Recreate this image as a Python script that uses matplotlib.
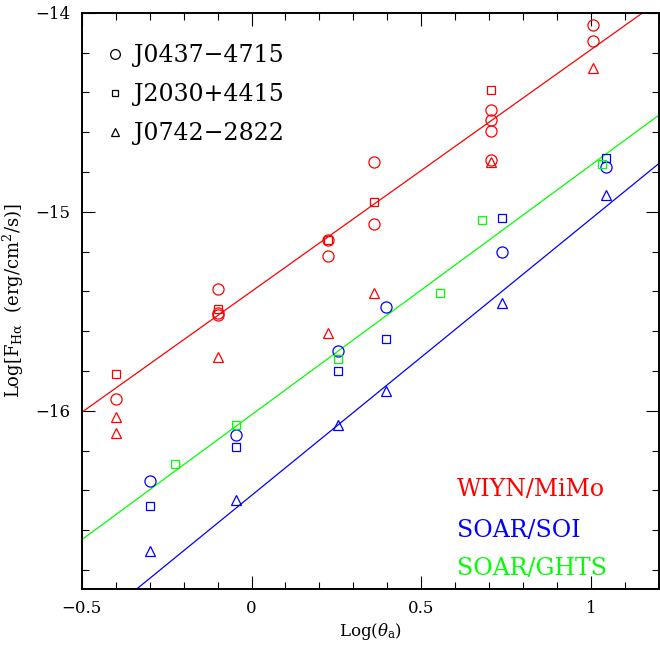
import numpy as np
import matplotlib
matplotlib.use("Agg")
import matplotlib.pyplot as plt
from matplotlib.lines import Line2D
from matplotlib.ticker import MultipleLocator

plt.rcParams['font.family'] = 'serif'
plt.rcParams['font.serif'] = ['DejaVu Serif']
plt.rcParams['mathtext.fontset'] = 'dejavuserif'

# WIYN/MiMo (red)
wiyn_j0437_x = [-0.40, -0.10, -0.10, -0.10, 0.225, 0.225, 0.36, 0.36, 0.705, 0.705, 0.705, 0.705, 1.005, 1.005]
wiyn_j0437_y = [-15.94, -15.39, -15.51, -15.52, -15.14, -15.22, -14.75, -15.06, -14.49, -14.54, -14.595, -14.74, -14.06, -14.14]
wiyn_j2030_x = [-0.40, -0.10, 0.225, 0.36, 0.705]
wiyn_j2030_y = [-15.815, -15.49, -15.14, -14.95, -14.39]
wiyn_j0742_x = [-0.40, -0.40, -0.10, 0.225, 0.36, 0.705, 1.005]
wiyn_j0742_y = [-16.03, -16.11, -15.73, -15.61, -15.41, -14.75, -14.28]

# SOAR/SOI (blue)
soi_x = [-0.30, -0.047, 0.254, 0.397, 0.738, 1.043]
soi_j0437_y = [-16.35, -16.12, -15.70, -15.48, -15.20, -14.775]
soi_j2030_y = [-16.48, -16.18, -15.80, -15.64, -15.03, -14.73]
soi_j0742_y = [-16.705, -16.45, -16.07, -15.90, -15.46, -14.915]

# SOAR/GHTS (green)
ghts_j2030_x = [-0.224, -0.047, 0.254, 0.555, 0.679, 1.031]
ghts_j2030_y = [-16.265, -16.07, -15.74, -15.41, -15.04, -14.758]

# linear fits: slope, intercept
fit_red = (1.215, -15.40)
fit_green = (1.255, -16.02)
fit_blue = (1.39, -16.425)

red = (1, 0, 0)
blue = (0, 0, 1)
green = (0, 1, 0)

fig = plt.figure(figsize=(6.6, 6.45), dpi=100)
ax = fig.add_axes([0.1238, 0.0868, 0.8747, 0.8935])

xx = np.array([-0.5, 1.2])
for (m, b), c in [(fit_red, red), (fit_green, green), (fit_blue, blue)]:
    ax.plot(xx, m * xx + b, color=c, linewidth=0.9)

mk = dict(linestyle='none', markerfacecolor='none', markeredgewidth=0.9)
ax.plot(wiyn_j0437_x, wiyn_j0437_y, marker='o', markersize=8, markeredgecolor=red, **mk)
ax.plot(wiyn_j2030_x, wiyn_j2030_y, marker='s', markersize=6, markeredgecolor=red, **mk)
ax.plot(wiyn_j0742_x, wiyn_j0742_y, marker='^', markersize=7, markeredgecolor=red, **mk)
ax.plot(soi_x, soi_j0437_y, marker='o', markersize=8, markeredgecolor=blue, **mk)
ax.plot(soi_x, soi_j2030_y, marker='s', markersize=6, markeredgecolor=blue, **mk)
ax.plot(soi_x, soi_j0742_y, marker='^', markersize=7, markeredgecolor=blue, **mk)
ax.plot(ghts_j2030_x, ghts_j2030_y, marker='s', markersize=6, markeredgecolor=green, **mk)

ax.set_xlim(-0.5, 1.2)
ax.set_ylim(-16.895, -14)
ax.xaxis.set_major_locator(MultipleLocator(0.5))
ax.xaxis.set_minor_locator(MultipleLocator(0.1))
ax.yaxis.set_major_locator(MultipleLocator(1))
ax.yaxis.set_minor_locator(MultipleLocator(0.2))
ax.xaxis.set_major_formatter(plt.FuncFormatter(lambda v, p: ('\u2212' if v < 0 else '') + ('%g' % abs(v))))
ax.yaxis.set_major_formatter(plt.FuncFormatter(lambda v, p: '\u2212%g' % abs(v)))
ax.tick_params(which='both', direction='in', top=True, right=True, width=0.8, labelsize=12, pad=8)
ax.tick_params(which='major', length=9.5)
ax.tick_params(which='minor', length=4.8)
for s in ax.spines.values():
    s.set_linewidth(1.4)

ax.set_xlabel(r'Log($\theta_{\rm a}$)', fontsize=12, labelpad=3)
ax.set_ylabel(r'Log[F$_{\rm H\alpha}$  (erg/cm$^2$/s)]', fontsize=13, labelpad=7)

handles = [Line2D([], [], color='k', marker='o', markersize=7, **mk),
           Line2D([], [], color='k', marker='s', markersize=5, **mk),
           Line2D([], [], color='k', marker='^', markersize=6, **mk)]
ax.legend(handles, ['J0437\u22124715', 'J2030+4415', 'J0742\u22122822'], loc='upper left',
          bbox_to_anchor=(-0.0104, 0.9965),
          frameon=False, fontsize=17, handlelength=0.8, handletextpad=0.4,
          labelspacing=0.67, borderaxespad=0.95, borderpad=0.3)

ax.text(0.65, 0.172, 'WIYN/MiMo', color=red, fontsize=17, transform=ax.transAxes, va='center')
ax.text(0.65, 0.102, 'SOAR/SOI', color=blue, fontsize=17, transform=ax.transAxes, va='center')
ax.text(0.65, 0.035, 'SOAR/GHTS', color=green, fontsize=17, transform=ax.transAxes, va='center')

fig.savefig('out.png', dpi=100)
